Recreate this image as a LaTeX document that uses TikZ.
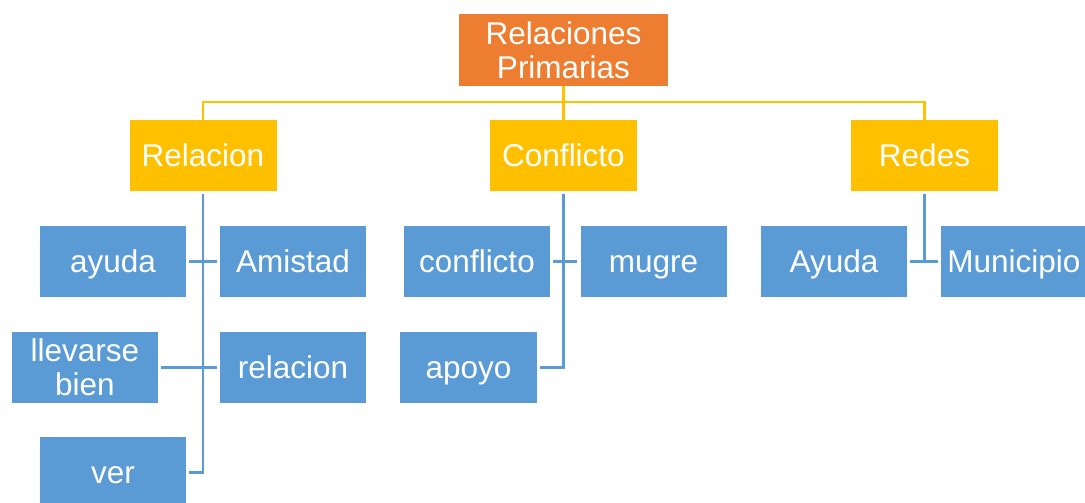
\documentclass[tikz,border=0pt]{standalone}
\usepackage{fontspec}
\setmainfont{Liberation Sans}
\usepackage{tikz}

\definecolor{rootOrange}{HTML}{ED7D31}
\definecolor{headYellow}{HTML}{FFC000}
\definecolor{leafBlue}{HTML}{5B9BD5}

\begin{document}
\begin{tikzpicture}[x=1pt, y=-1pt,
        box/.style={inner sep=0pt, text=white, align=center,
            font=\fontsize{31.5}{34}\selectfont},
        oneline/.style={text height=26pt, text depth=5pt},
        rootbox/.style={box, fill=rootOrange, minimum width=209pt, minimum height=72pt},
        headbox/.style={box, oneline, fill=headYellow, minimum width=147pt, minimum height=71pt},
        leafbox/.style={box, oneline, fill=leafBlue, minimum width=146pt, minimum height=71pt},
        upper/.style={draw=headYellow, line width=2.5pt},
        lower/.style={draw=leafBlue, line width=2.5pt}]
        \pgfmathsetmacro{\rowHead}{155.5}
        \pgfmathsetmacro{\rowA}{261.5}
        \pgfmathsetmacro{\rowB}{367.5}
        \pgfmathsetmacro{\rowC}{472.5}
        \pgfmathsetmacro{\busY}{102}

        \useasboundingbox (0, 0) rectangle (1085, 503);

        % top and middle row
        \node[rootbox] (root) at (563.5, 50) {Relaciones\\Primarias};
        \node[headbox] (relacion) at (203, \rowHead) {Relacion};
        \node[headbox] (conflicto) at (563.5, \rowHead) {Conflicto};
        \node[headbox] (redes) at (924.5, \rowHead) {Redes};

        \draw[upper] (root.south) -- (root.south |- 0, \busY);
        \draw[upper] (relacion.north) -- (relacion.north |- 0, \busY)
            -- (redes.north |- 0, \busY) -- (redes.north);
        \draw[upper] (conflicto.north) -- (conflicto.north |- 0, \busY);

        % Relacion
        \node[leafbox] (ayuda) at (113, \rowA) {ayuda};
        \node[leafbox] (amistad) at (293, \rowA) {Amistad};
        \node[leafbox, text height=, text depth=] (llevarse) at (85, \rowB) {llevarse\\bien};
        \node[leafbox] (relacionB) at (293, \rowB) {relacion};
        \node[leafbox] (ver) at (113, \rowC) {ver};

        \draw[lower] (relacion.south) ++ (0, 3) -- (relacion.south |- ver.east)
            -- ([xshift=3pt]ver.east);
        \draw[lower] ([xshift=3pt]ayuda.east) -- ([xshift=-3pt]amistad.west);
        \draw[lower] ([xshift=3pt]llevarse.east) -- ([xshift=-3pt]relacionB.west);

        % Conflicto
        \node[leafbox] (conflictoB) at (477, \rowA) {conflicto};
        \node[leafbox] (mugre) at (653.5, \rowA) {mugre};
        \node[leafbox, minimum width=137pt] (apoyo) at (468.5, \rowB) {apoyo};

        \draw[lower] (conflicto.south) ++ (0, 3) -- (conflicto.south |- apoyo.east)
            -- ([xshift=3pt]apoyo.east);
        \draw[lower] ([xshift=3pt]conflictoB.east) -- ([xshift=-3pt]mugre.west);

        % Redes
        \node[leafbox] (ayudaB) at (834, \rowA) {Ayuda};
        \node[leafbox] (municipio) at (1014, \rowA) {Municipio};

        \draw[lower] (redes.south) ++ (0, 3) -- (redes.south |- ayudaB.east);
        \draw[lower] ([xshift=3pt]ayudaB.east) -- ([xshift=-3pt]municipio.west);
    \end{tikzpicture}
\end{document}
